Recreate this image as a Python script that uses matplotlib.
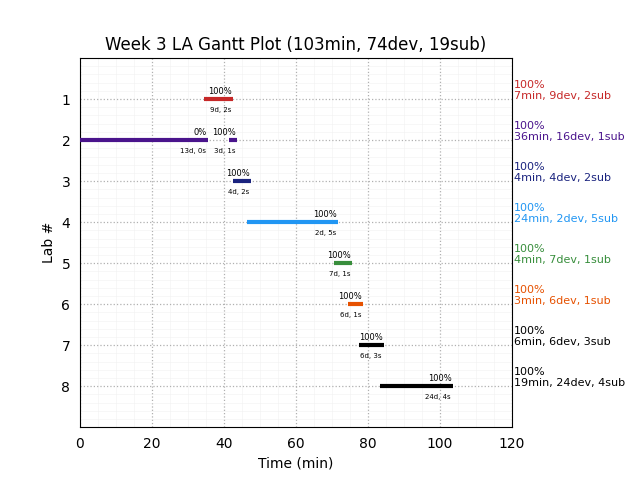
import matplotlib
matplotlib.use("Agg")
import matplotlib.pyplot as plt

# ---- data ----
seg_lab = [1, 2, 2, 3, 4, 5, 6, 7, 8]
seg_start = [34.5, 0.0, 41.3, 42.4, 46.3, 70.5, 74.4, 77.5, 83.3]
seg_end = [42.6, 35.5, 43.7, 47.5, 71.7, 75.6, 78.7, 84.4, 103.6]
seg_pct = ["100%", "0%", "100%", "100%", "100%", "100%", "100%", "100%", "100%"]
seg_sub = ["9d, 2s", "13d, 0s", "3d, 1s", "4d, 2s", "2d, 5s", "7d, 1s",
           "6d, 1s", "6d, 3s", "24d, 4s"]

labs = [1, 2, 3, 4, 5, 6, 7, 8]
lab_pct = ["100%"] * 8
lab_min = [7, 36, 4, 24, 4, 3, 6, 19]
lab_dev = [9, 16, 4, 2, 7, 6, 6, 24]
lab_sub = [2, 1, 2, 5, 1, 1, 3, 4]
lab_colors = ["#C62828", "#4A148C", "#1A237E", "#2196F3", "#388E3C",
              "#E65100", "#000000", "#000000"]

title = "Week 3 LA Gantt Plot (103min, 74dev, 19sub)"

# ---- plot ----
fig, ax = plt.subplots(figsize=(6.4, 4.8), dpi=100)
fig.subplots_adjust(left=0.125, right=0.8, top=0.879, bottom=0.11)

for lab, s, e, p, sb in zip(seg_lab, seg_start, seg_end, seg_pct, seg_sub):
    c = lab_colors[lab - 1]
    ax.hlines(lab, s, e, colors=c, linewidth=3, zorder=3)
    ax.annotate(p, (e, lab), xytext=(-1, 2), textcoords="offset points",
                ha="right", va="bottom", fontsize=6)
    ax.annotate(sb, (e, lab), xytext=(-1.5, -5.5), textcoords="offset points",
                ha="right", va="top", fontsize=5)

for lab, p, m, d, sbm, c in zip(labs, lab_pct, lab_min, lab_dev, lab_sub, lab_colors):
    ax.annotate(f"{p}\n{m}min, {d}dev, {sbm}sub", (1.0, lab),
                xycoords=("axes fraction", "data"), xytext=(1.5, -1.5),
                textcoords="offset points", ha="left", va="bottom",
                fontsize=8, color=c, annotation_clip=False)

ax.set_xlim(0, 120)
ax.set_ylim(9, 0)
ax.set_yticks(labs)
ax.set_xticks([0, 20, 40, 60, 80, 100, 120])
ax.minorticks_on()
ax.tick_params(which="major", length=3.5, color="none")
ax.tick_params(which="minor", length=0)
ax.grid(which="major", linestyle=":", color="#b0b0b0", linewidth=0.9)
ax.grid(which="minor", linestyle="-", color="#eeeeee", linewidth=0.6, alpha=0.5)
ax.set_axisbelow(True)
ax.set_xlabel("Time (min)")
ax.set_ylabel("Lab #")
ax.set_title(title)

fig.savefig("out.png", dpi=100)
